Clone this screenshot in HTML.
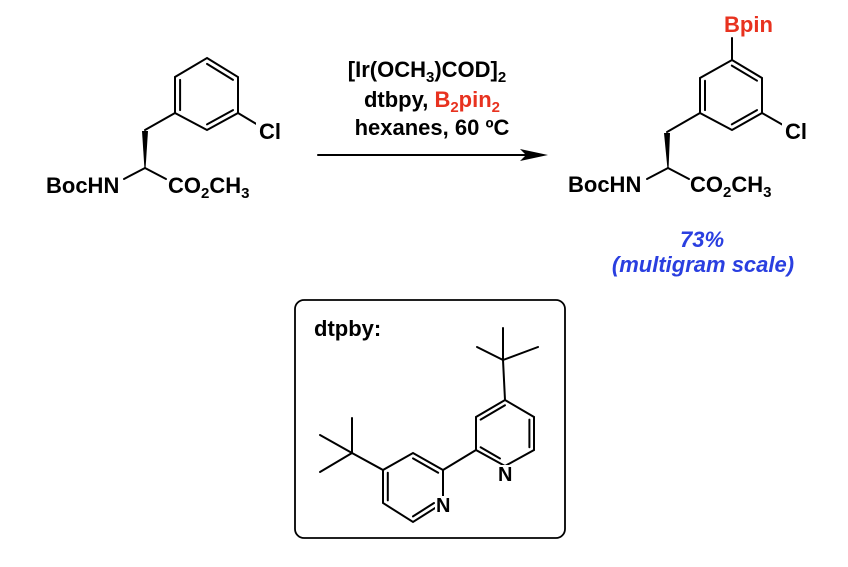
<!DOCTYPE html>
<html><head><style>
html,body{margin:0;padding:0;background:#fff;}
svg{display:block;}
text{font-family:"Liberation Sans",Arial,sans-serif;font-weight:bold;}
</style></head><body>
<svg width="848" height="567" viewBox="0 0 848 567" xmlns="http://www.w3.org/2000/svg">
<g stroke="#000" stroke-width="2" fill="none" stroke-linecap="round">
<polygon points="207,58 238,77 238,113 207,130 175,113 175,77"/>
<line x1="180.1" y1="79.9" x2="180.1" y2="110.1"/>
<line x1="207" y1="63.9" x2="233" y2="79.9"/>
<line x1="207" y1="124.4" x2="233" y2="110.1"/>
<line x1="238" y1="113" x2="258" y2="125"/>
<line x1="175" y1="113" x2="145" y2="130"/>
<line x1="145" y1="168" x2="124" y2="179"/>
<line x1="145" y1="168" x2="166" y2="179"/>
<polygon points="732,60 762,78 762,113 732,130 700,113 700,78"/>
<line x1="705" y1="80.7" x2="705" y2="110.1"/>
<line x1="731.8" y1="65.6" x2="757" y2="80.7"/>
<line x1="731.8" y1="124.4" x2="757" y2="110.1"/>
<line x1="732" y1="60" x2="732" y2="38"/>
<line x1="762" y1="113" x2="783" y2="125"/>
<line x1="700" y1="113" x2="667" y2="132"/>
<line x1="668" y1="168" x2="647" y2="179"/>
<line x1="668" y1="168" x2="689" y2="179"/>
<line x1="318" y1="155" x2="530" y2="155"/>
<rect x="295" y="300" width="270" height="238" rx="9" ry="9" stroke-width="1.8"/>
<polyline points="505,466 534,450 534,417 505,400 476,417 476,450 505,466"/>
<line x1="505" y1="405.3" x2="480.6" y2="419.6"/>
<line x1="529.4" y1="419.6" x2="529.4" y2="447.3"/>
<line x1="480.6" y1="447.3" x2="500" y2="458.5"/>
<line x1="505" y1="400" x2="503" y2="360"/>
<line x1="503" y1="360" x2="503" y2="328"/>
<line x1="503" y1="360" x2="477" y2="347"/>
<line x1="503" y1="360" x2="538" y2="347"/>
<line x1="476" y1="450" x2="443" y2="470"/>
<polygon points="443,470 413,453 383,470 383,503 413,522 443,503"/>
<line x1="438.2" y1="472.7" x2="413" y2="458.4"/>
<line x1="387.8" y1="472.7" x2="387.8" y2="500.4"/>
<line x1="413" y1="516.4" x2="434" y2="503"/>
<line x1="383" y1="470" x2="352" y2="453"/>
<line x1="352" y1="453" x2="352" y2="418"/>
<line x1="352" y1="453" x2="320" y2="435"/>
<line x1="352" y1="453" x2="320" y2="472"/>
</g>
<polygon points="520,149 548,155 520,161 526,155" fill="#000"/>
<polygon points="142,131 148,131 145.6,168 144.4,168" fill="#000"/>
<polygon points="664,133 670,133 668.6,168 667.4,168" fill="#000"/>
<g font-size="22" fill="#000">
<rect x="256" y="121" width="28" height="20" fill="#fff"/>
<text x="259" y="139">Cl</text>
<text x="46" y="193">BocHN</text>
<text x="168" y="193">CO<tspan font-size="15" dy="5">2</tspan><tspan dy="-5">CH</tspan><tspan font-size="15" dy="5">3</tspan></text>
<rect x="782" y="121" width="28" height="20" fill="#fff"/>
<text x="785" y="139">Cl</text>
<text x="724" y="32" fill="#e8321f">Bpin</text>
<text x="568" y="192">BocHN</text>
<text x="690" y="192">CO<tspan font-size="15" dy="5">2</tspan><tspan dy="-5">CH</tspan><tspan font-size="15" dy="5">3</tspan></text>
<text x="427" y="77" text-anchor="middle">[Ir(OCH<tspan font-size="15" dy="5">3</tspan><tspan dy="-5">)COD]</tspan><tspan font-size="15" dy="5">2</tspan></text>
<text x="432" y="107" text-anchor="middle">dtbpy, <tspan fill="#e8321f">B<tspan font-size="15" dy="5">2</tspan><tspan dy="-5">pin</tspan><tspan font-size="15" dy="5">2</tspan></tspan></text>
<text x="432" y="135" text-anchor="middle">hexanes, 60 ºC</text>
<text x="702" y="247" text-anchor="middle" fill="#2a3fe0" font-style="italic">73%</text>
<text x="703" y="272" text-anchor="middle" fill="#2a3fe0" font-style="italic">(multigram scale)</text>
<text x="314" y="336">dtpby:</text>
<rect x="497" y="465" width="18" height="17" fill="#fff"/>
<text x="498" y="481" font-size="20">N</text>
<rect x="435" y="496" width="18" height="17" fill="#fff"/>
<text x="436" y="512" font-size="20">N</text>
</g>
</svg>
</body></html>
